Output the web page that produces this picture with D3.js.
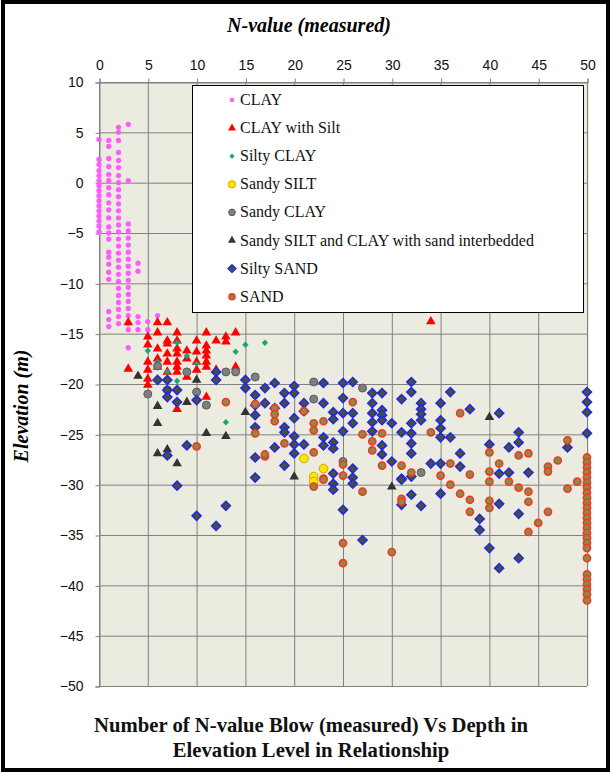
<!DOCTYPE html>
<html>
<head>
<meta charset="utf-8">
<script src="https://cdn.jsdelivr.net/npm/d3@7/dist/d3.min.js"></script>
<style>
  html, body { margin: 0; padding: 0; background: #ffffff; }
  svg { display: block; }
</style>
</head>
<body>
<svg id="chart" width="611" height="773"></svg>
<script>
// N-value (blow count) versus elevation, grouped by soil type.
const xTicks = [0, 5, 10, 15, 20, 25, 30, 35, 40, 45, 50];
const yTicks = [10, 5, 0, -5, -10, -15, -20, -25, -30, -35, -40, -45, -50];

const seriesNames = [
  "CLAY", "CLAY with Silt", "Silty CLAY", "Sandy SILT", "Sandy CLAY",
  "Sandy SILT and CLAY with sand interbedded", "Silty SAND", "SAND"
];

// [N-value, elevation (m)]
const clay = [
  [0,4.3],[0,2.3],[0,1.8],[0,1.2],[0,0.7],[0,0.2],[0,-0.3],[0,-0.8],[0,-1.3],[0,-1.8],
  [0,-2.3],[0,-2.8],[0,-3.3],[0,-3.8],[0,-4.3],[0,-4.9],
  [1,4.2],[1,3.6],[1,2.4],[1,1.6],[1,0.8],[1,0.2],[1,-0.5],[1,-1.2],[1,-2.0],[1,-2.7],
  [1,-3.5],[1,-4.4],[1,-5.0],[1,-5.6],[1,-6.9],[1,-7.4],[1,-8.1],[1,-8.9],[1,-9.6],
  [1,-12.8],[1,-13.6],[1,-14.3],
  [2,5.5],[2,5.0],[2,4.2],[2,3.0],[2,2.2],[2,1.5],[2,0.7],[2,0],[2,-0.7],[2,-1.4],
  [2,-2.1],[2,-2.8],[2,-3.5],[2,-4.2],[2,-4.9],[2,-5.6],[2,-6.3],[2,-7.0],[2,-7.7],
  [2,-8.4],[2,-9.1],[2,-9.8],[2,-10.5],[2,-11.2],[2,-11.9],[2,-12.6],[2,-13.3],[2,-14.0],
  [3,5.8],[3,0.2],[3,-4.1],[3,-4.8],[3,-5.5],[3,-6.2],[3,-6.9],[3,-7.6],[3,-8.3],[3,-9.0],
  [3,-9.7],[3,-10.4],[3,-11.1],[3,-11.8],[3,-12.5],[3,-13.2],[3,-14.0],[3,-14.6],[3,-16.4],
  [4,-8.0],[4,-8.8],[4,-13.3],[4,-13.9],[4,-14.6],
  [5,-13.8],[5,-14.6],[6,-13.2]
];

const clayWithSilt = [
  [3,-13.9],[3,-18.5],
  [5,-15.3],[5,-16.1],[5,-17.8],[5,-18.6],[5,-19.5],[5,-20.1],
  [6,-13.9],[6,-14.9],[6,-16.5],[6,-17.5],[6,-18.3],
  [7,-13.9],[7,-15.7],[7,-16.0],[7,-17.0],[7,-17.8],[7,-18.8],
  [8,-14.9],[8,-15.7],[8,-16.5],[8,-17.0],[8,-17.8],[8,-18.3],[8,-18.8],[8,-22.5],
  [9,-16.7],[9,-17.5],[9,-19.3],
  [10,-15.7],[10,-16.8],[10,-17.8],[10,-18.6],
  [11,-14.9],[11,-16.2],[11,-16.7],[11,-17.2],[11,-17.8],[11,-18.3],[11,-21.3],
  [12,-15.7],[12,-18.6],
  [13,-15.3],[13,-15.8],
  [14,-14.9],[14,-18.3],
  [34,-13.8]
];

const siltyClay = [
  [5,-16.7],[6,-17.8],[7,-18.8],[8,-15.9],[8,-19.7],[9,-17.2],[10,-18.0],[10,-20.8],
  [13,-23.8],[14,-16.8],[15,-16.1],[17,-15.9]
];

const sandySilt = [
  [21,-27.4],[23,-28.4],[22,-29.2],[22,-29.7]
];

const sandyClay = [
  [5,-21.0],[6,-18.2],[7,-20.6],[9,-18.8],[10,-20.8],[11,-22.1],[13,-18.8],[14,-18.8],
  [16,-19.3],[22,-19.8],[22,-21.5],[27,-20.4],[25,-27.7],[33,-28.8]
];

const sandySiltClay = [
  [4,-19.2],[6,-22.2],[6,-23.9],[6,-26.9],[7,-26.5],[8,-27.9],[9,-21.8],[10,-19.6],
  [11,-24.9],[13,-25.2],[15,-22.8],[20,-29.2],[24,-26.3],[30,-30.2],[40,-23.3]
];

const siltySand = [
  [6,-19.6],[7,-19.6],[7,-20.6],[7,-21.3],[8,-20.6],[8,-21.8],[9,-26.1],[7,-27.1],[8,-30.1],
  [10,-21.6],[10,-33.1],[12,-18.8],[12,-19.6],[12,-34.1],[13,-32.1],
  [15,-19.6],[15,-20.4],[16,-21.1],[16,-22.1],[16,-23.1],[16,-24.3],[16,-27.3],[16,-29.3],
  [17,-20.4],[17,-21.9],[18,-19.9],[18,-22.4],[18,-26.3],
  [19,-20.9],[19,-21.9],[19,-24.3],[19,-24.8],[19,-28.1],
  [20,-20.2],[20,-20.9],[20,-23.4],[20,-25.2],[20,-26.0],[20,-26.9],
  [21,-21.9],[21,-22.7],[21,-26.0],
  [23,-19.9],[23,-21.9],[23,-25.3],[23,-26.1],
  [24,-22.8],[24,-23.5],[24,-25.8],[24,-26.4],[24,-28.9],[24,-29.9],[24,-30.5],
  [25,-19.9],[25,-21.4],[25,-22.9],[25,-24.7],[25,-32.5],
  [26,-19.8],[26,-22.9],[26,-23.9],[26,-28.4],[26,-29.3],[26,-29.9],
  [27,-35.5],
  [28,-20.9],[28,-21.9],[28,-22.9],[28,-23.8],[28,-24.7],
  [29,-20.9],[29,-22.6],[29,-23.1],[29,-23.6],[29,-26.1],[29,-27.0],
  [30,-23.9],[30,-27.7],
  [31,-21.5],[31,-24.8],[31,-29.4],[31,-29.5],[31,-32.0],
  [32,-19.8],[32,-20.8],[32,-23.9],[32,-24.9],[32,-25.9],[32,-26.9],[32,-29.2],[32,-31.0],
  [33,-21.9],[33,-22.5],[33,-23.0],[33,-23.6],[33,-32.1],
  [34,-27.9],
  [35,-21.9],[35,-23.6],[35,-24.4],[35,-25.3],[35,-27.9],[35,-30.9],
  [36,-20.8],[36,-25.3],
  [37,-26.9],[37,-28.2],[38,-22.5],
  [39,-33.4],[39,-34.5],
  [40,-26.0],[40,-36.3],
  [41,-22.9],[41,-28.9],[41,-31.9],[41,-38.3],
  [42,-26.3],[42,-28.8],
  [43,-24.8],[43,-25.8],[43,-32.9],[43,-37.3],
  [44,-28.8],[48,-26.3],
  [50,-20.8],[50,-21.8],[50,-22.8],[50,-24.9]
];

const sand = [
  [10,-26.2],[13,-21.8],[16,-22.0],[16,-24.9],[17,-27.2],[17,-27.0],
  [18,-22.4],[18,-23.0],[18,-23.7],[19,-25.9],
  [21,-22.7],[22,-23.9],[22,-24.6],[22,-26.8],[22,-30.2],[23,-23.7],[23,-29.4],[23,-29.5],
  [25,-28.0],[25,-29.1],[25,-35.8],[25,-37.8],
  [26,-21.8],[27,-25.0],[27,-30.7],[28,-25.7],[28,-26.6],
  [29,-24.9],[29,-28.1],[30,-36.7],
  [31,-28.1],[31,-31.4],[31,-31.7],[32,-28.8],
  [34,-24.8],[35,-29.1],[36,-27.9],[36,-30.0],[37,-22.9],[37,-30.9],
  [38,-29.0],[38,-31.5],[38,-32.7],
  [40,-26.8],[40,-28.7],[40,-29.7],[40,-31.6],[40,-32.3],
  [41,-27.9],[42,-29.7],[43,-27.1],[43,-30.3],
  [44,-26.9],[44,-30.7],[44,-31.7],[44,-34.7],
  [45,-33.8],[46,-28.2],[46,-28.7],[46,-32.7],[47,-27.6],
  [48,-25.6],[48,-30.4],[49,-29.7],
  [50,-27.3],[50,-27.8],[50,-28.3],[50,-28.8],[50,-29.3],[50,-29.8],[50,-30.3],[50,-30.8],
  [50,-31.3],[50,-31.8],[50,-32.3],[50,-32.8],[50,-33.3],[50,-33.8],[50,-34.3],[50,-34.8],
  [50,-35.3],[50,-35.8],[50,-36.3],[50,-37.3],[50,-38.9],[50,-39.4],[50,-39.9],[50,-40.4],
  [50,-40.9],[50,-41.5]
];

const seriesData = [clay, clayWithSilt, siltyClay, sandySilt, sandyClay, sandySiltClay, siltySand, sand];

// marker styles per series
const markerStyles = [
  { type: d3.symbolCircle,   size: 22, fill: "#ff5cff", stroke: "none",    sw: 0,   rot: 0 },
  { type: d3.symbolTriangle, size: 40, fill: "#ff0000", stroke: "none",    sw: 0,   rot: 0 },
  { type: d3.symbolSquare,   size: 20, fill: "#1aa672", stroke: "none",    sw: 0,   rot: 45 },
  { type: d3.symbolCircle,   size: 60, fill: "#ffe600", stroke: "#c9a800", sw: 1,   rot: 0 },
  { type: d3.symbolCircle,   size: 50, fill: "#7f7f7f", stroke: "#5a5a5a", sw: 1,   rot: 0 },
  { type: d3.symbolTriangle, size: 40, fill: "#333333", stroke: "none",    sw: 0,   rot: 0 },
  { type: d3.symbolSquare,   size: 40, fill: "#45552a", stroke: "#2626e6", sw: 1.6, rot: 45 },
  { type: d3.symbolCircle,   size: 40, fill: "#8c8a48", stroke: "#f03a22", sw: 1.6, rot: 0 }
];

const svg = d3.select("#chart");
const W = 611, H = 773;

// outer frame
svg.append("rect").attr("x", 3).attr("y", 2).attr("width", W - 6).attr("height", H - 5)
  .attr("fill", "#ffffff").attr("stroke", "#000000").attr("stroke-width", 4);

const x = d3.scaleLinear().domain([0, 50]).range([99, 587]);
const y = d3.scaleLinear().domain([10, -50]).range([82, 686]);

// plot area background
svg.append("rect")
  .attr("x", x(0)).attr("y", y(10))
  .attr("width", x(50) - x(0) + 2).attr("height", y(-50) - y(10))
  .attr("fill", "#ecebe0");

// grid
const grid = svg.append("g").attr("stroke", "#808080").attr("stroke-width", 1);
grid.selectAll("line.v").data(xTicks).join("line")
  .attr("x1", d => x(d) + 0.5).attr("x2", d => x(d) + 0.5)
  .attr("y1", y(10)).attr("y2", y(-50));
grid.selectAll("line.h").data(yTicks).join("line")
  .attr("y1", d => y(d) + 0.5).attr("y2", d => y(d) + 0.5)
  .attr("x1", x(0)).attr("x2", x(50));

// axes: N-value on top, elevation on left
const tickFont = "'Liberation Sans', Arial, sans-serif";
const topAxis = svg.append("g").attr("transform", `translate(0.5,${y(10) + 0.5})`)
  .call(d3.axisTop(x).tickValues(xTicks).tickSize(4).tickPadding(9));
const leftAxis = svg.append("g").attr("transform", `translate(${x(0) + 0.5},0.5)`)
  .call(d3.axisLeft(y).tickValues(yTicks).tickSize(4).tickPadding(12));
[topAxis, leftAxis].forEach(a => {
  a.select(".domain").attr("stroke", "#808080");
  a.selectAll(".tick line").attr("stroke", "#808080");
  a.selectAll(".tick text").attr("fill", "#111111")
    .style("font-family", tickFont).style("font-size", "14px");
});

// markers
const plot = svg.append("g");
seriesData.forEach((pts, i) => {
  const st = markerStyles[i];
  const path = d3.symbol().type(st.type).size(st.size)();
  plot.append("g").selectAll("path").data(pts).join("path")
    .attr("d", path)
    .attr("transform", d => `translate(${x(d[0])},${y(d[1])}) rotate(${st.rot})`)
    .attr("fill", st.fill)
    .attr("stroke", st.stroke)
    .attr("stroke-width", st.sw);
});

// legend
const serif = "'Liberation Serif', 'Times New Roman', serif";
const lg = svg.append("g");
lg.append("rect").attr("x", 192.5).attr("y", 85.5).attr("width", 391).attr("height", 227)
  .attr("fill", "#ffffff").attr("stroke", "#000000").attr("stroke-width", 1);
seriesNames.forEach((name, i) => {
  const st = markerStyles[i];
  const cy = 100 + i * 28.1;
  lg.append("path")
    .attr("d", d3.symbol().type(st.type).size(st.size * 0.7)())
    .attr("transform", `translate(232,${cy}) rotate(${st.rot})`)
    .attr("fill", st.fill).attr("stroke", st.stroke).attr("stroke-width", st.sw);
  lg.append("text").attr("x", 240).attr("y", cy + 5)
    .style("font-family", serif)
    .style("font-size", "16px").attr("fill", "#111111")
    .text(name);
});

// titles
svg.append("text").attr("x", 309).attr("y", 32).attr("text-anchor", "middle")
  .style("font-family", serif).style("font-size", "20px")
  .style("font-weight", "bold").style("font-style", "italic")
  .text("N-value (measured)");

svg.append("text").attr("transform", "translate(28,406) rotate(-90)").attr("text-anchor", "middle")
  .style("font-family", serif).style("font-size", "20px")
  .style("font-weight", "bold").style("font-style", "italic")
  .text("Elevation (m)");

const bottomTitle = ["Number of N-value Blow (measured) Vs Depth in", "Elevation Level in Relationship"];
bottomTitle.forEach((t, i) => {
  svg.append("text").attr("x", 311).attr("y", 732 + i * 25).attr("text-anchor", "middle")
    .style("font-family", serif).style("font-size", "20.7px").style("font-weight", "bold")
    .attr("fill", "#111111")
    .text(t);
});
</script>
</body>
</html>
